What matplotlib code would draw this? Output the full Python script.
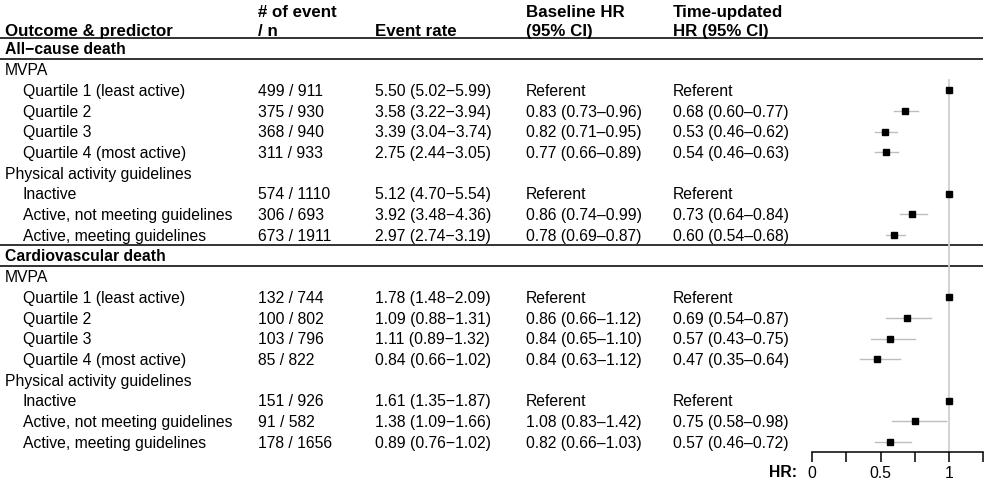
import matplotlib
matplotlib.use("Agg")
import matplotlib.pyplot as plt

plt.rcParams['font.family'] = ['Liberation Sans', 'DejaVu Sans']

# ---------------- data ----------------
outcomes = ["All\u2212cause death", "Cardiovascular death"]
groups = ["MVPA", "Physical activity guidelines"]
levels_mvpa = ["Quartile 1 (least active)", "Quartile 2", "Quartile 3", "Quartile 4 (most active)"]
levels_pag = ["Inactive", "Active, not meeting guidelines", "Active, meeting guidelines"]

# order: all-cause (MVPA Q1-Q4, PAG x3), then cardiovascular (same)
events = [499, 375, 368, 311, 574, 306, 673, 132, 100, 103, 85, 151, 91, 178]
totals = [911, 930, 940, 933, 1110, 693, 1911, 744, 802, 796, 822, 926, 582, 1656]
rate = [5.50, 3.58, 3.39, 2.75, 5.12, 3.92, 2.97, 1.78, 1.09, 1.11, 0.84, 1.61, 1.38, 0.89]
rate_lo = [5.02, 3.22, 3.04, 2.44, 4.70, 3.48, 2.74, 1.48, 0.88, 0.89, 0.66, 1.35, 1.09, 0.76]
rate_hi = [5.99, 3.94, 3.74, 3.05, 5.54, 4.36, 3.19, 2.09, 1.31, 1.32, 1.02, 1.87, 1.66, 1.02]
base_hr = [None, 0.83, 0.82, 0.77, None, 0.86, 0.78, None, 0.86, 0.84, 0.84, None, 1.08, 0.82]
base_lo = [None, 0.73, 0.71, 0.66, None, 0.74, 0.69, None, 0.66, 0.65, 0.63, None, 0.83, 0.66]
base_hi = [None, 0.96, 0.95, 0.89, None, 0.99, 0.87, None, 1.12, 1.10, 1.12, None, 1.42, 1.03]
referent = [True, False, False, False, True, False, False, True, False, False, False, True, False, False]
tu_hr = [1.00, 0.68, 0.53, 0.54, 1.00, 0.73, 0.60, 1.00, 0.69, 0.57, 0.47, 1.00, 0.75, 0.57]
tu_lo = [None, 0.60, 0.46, 0.46, None, 0.64, 0.54, None, 0.54, 0.43, 0.35, None, 0.58, 0.46]
tu_hi = [None, 0.77, 0.62, 0.63, None, 0.84, 0.68, None, 0.87, 0.75, 0.64, None, 0.98, 0.72]
hr_ticks = [0, 0.25, 0.5, 0.75, 1, 1.25]
hr_tick_labels = ["0", "", "0.5", "", "1", ""]
col_headers = [("Outcome & predictor", None), ("# of event", "/ n"), ("Event rate", None),
               ("Baseline HR", "(95% CI)"), ("Time-updated", "HR (95% CI)")]

# ---------------- layout ----------------
W, H, DPI = 987, 480, 100
FS = 11.3
FS_HEAD = 12.2
ROW0, ROWH = 48.8, 20.7          # pixel centre of first row, row height
X_LABEL, X_INDENT = 5, 23
X_COLS = [258, 375, 526, 673]
AX_X0, AX_X1, AX_Y = 812.3, 983.3, 451.7
LINE_COLOR = '#222222'

fig = plt.figure(figsize=(W / DPI, H / DPI), dpi=DPI)
bg = fig.add_axes([0, 0, 1, 1])
bg.set_xlim(0, W)
bg.set_ylim(H, 0)
bg.axis('off')


def ypx(k):
    return ROW0 + ROWH * k


def put(x, yc, s, bold=False, ha='left', fs=FS):
    cap_half = 0.358 * fs * DPI / 72.0     # baseline offset so caps are centred on yc
    bg.text(x, yc + cap_half, s, fontsize=fs, fontweight='bold' if bold else 'normal',
            va='baseline', ha=ha)


# headers
hx = [X_LABEL] + X_COLS
for (l1, l2), x in zip(col_headers, hx):
    if l2 is None:
        put(x, 30, l1, bold=True, fs=FS_HEAD)
    else:
        put(x, 10.5, l1, bold=True, fs=FS_HEAD)
        put(x, 30, l2, bold=True, fs=FS_HEAD)


def fmt_hr(v, lo, hi, ref):
    if ref:
        return "Referent"
    return f"{v:.2f} ({lo:.2f}\u2013{hi:.2f})"


rows = []   # (row index, data index)
k = 0
idx = 0
for oc in outcomes:
    put(X_LABEL, ypx(k), oc, bold=True)
    for yy in (ypx(k) - 11.0, ypx(k) + 10.0):
        bg.plot([0, AX_X1], [yy, yy], color=LINE_COLOR, lw=1.3, solid_capstyle='butt')
    k += 1
    for g, levels in zip(groups, [levels_mvpa, levels_pag]):
        put(X_LABEL, ypx(k), g)
        k += 1
        for lv in levels:
            y = ypx(k)
            put(X_INDENT, y, lv)
            put(X_COLS[0], y, f"{events[idx]} / {totals[idx]}")
            put(X_COLS[1], y, f"{rate[idx]:.2f} ({rate_lo[idx]:.2f}\u2212{rate_hi[idx]:.2f})")
            put(X_COLS[2], y, fmt_hr(base_hr[idx], base_lo[idx], base_hi[idx], referent[idx]))
            put(X_COLS[3], y, fmt_hr(tu_hr[idx], tu_lo[idx], tu_hi[idx], referent[idx]))
            rows.append((k, idx))
            k += 1
            idx += 1

put(797, 471.5, "HR:", bold=True, ha='right')

# ---------------- forest axes ----------------
k_bottom = (AX_Y - ROW0) / ROWH
k_top = (0 - ROW0) / ROWH
ax = fig.add_axes([AX_X0 / W, (H - AX_Y) / H, (AX_X1 - AX_X0) / W, AX_Y / H])
ax.set_xlim(hr_ticks[0], hr_ticks[-1])
ax.set_ylim(k_bottom, k_top)
ax.patch.set_alpha(0)
for s in ('left', 'right', 'top'):
    ax.spines[s].set_visible(False)
ax.spines['bottom'].set_linewidth(1.1)
ax.set_yticks([])
ax.set_xticks(hr_ticks)
ax.set_xticklabels(hr_tick_labels)
ax.tick_params(axis='x', direction='out', length=7.5, width=1.1, labelsize=FS, pad=2.5)

first_row = rows[0][0]
ax.plot([1, 1], [first_row - 0.5, k_bottom], color='#cfcfcf', lw=1.3, zorder=1, clip_on=False)
for kk, i in rows:
    if not referent[i]:
        ax.plot([tu_lo[i], tu_hi[i]], [kk, kk], color='#bdbdbd', lw=1.0, zorder=2)
    ax.plot([tu_hr[i]], [kk], marker='s', color='black', markersize=5, zorder=3, linestyle='none')

fig.savefig("out.png", dpi=DPI)
